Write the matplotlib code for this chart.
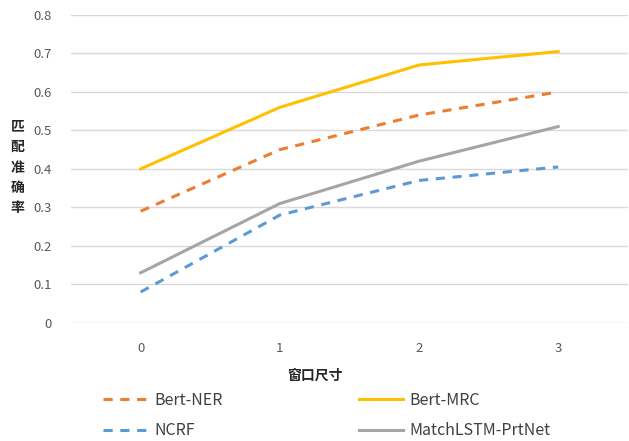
import matplotlib
matplotlib.use('Agg')
import matplotlib.pyplot as plt

plt.rcParams['font.family'] = ['Noto Sans CJK SC', 'DejaVu Sans']

# 窗口尺寸
x_labels = ['0', '1', '2', '3']
bert_ner = [0.29, 0.45, 0.54, 0.60]
bert_mrc = [0.40, 0.56, 0.67, 0.705]
ncrf = [0.08, 0.28, 0.37, 0.405]
match_lstm = [0.13, 0.31, 0.42, 0.51]
y_ticks = [0, 0.1, 0.2, 0.3, 0.4, 0.5, 0.6, 0.7, 0.8]

fig = plt.figure(figsize=(6.29, 4.41), dpi=100)
ax = fig.add_axes([0.113, 0.268, 0.885, 0.698])

x = list(range(len(x_labels)))
l1, = ax.plot(x, bert_ner, color='#ED7D31', lw=2.2, ls=(0, (3, 2.5)), label='Bert-NER')
l2, = ax.plot(x, bert_mrc, color='#FFC000', lw=2.2, label='Bert-MRC')
l3, = ax.plot(x, ncrf, color='#5B9BD5', lw=2.2, ls=(0, (3, 2.5)), label='NCRF')
l4, = ax.plot(x, match_lstm, color='#A5A5A5', lw=2.2, label='MatchLSTM-PrtNet')

ax.set_xlim(-0.5, 3.5)
ax.set_ylim(0, 0.8)
ax.set_xticks(x)
ax.set_xticklabels(x_labels)
ax.set_yticks(y_ticks)
ax.set_yticklabels(['0', '0.1', '0.2', '0.3', '0.4', '0.5', '0.6', '0.7', '0.8'])
ax.tick_params(axis='both', length=0, labelsize=9.5, labelcolor='#595959')
ax.tick_params(axis='y', pad=14)
ax.tick_params(axis='x', pad=14)
ax.grid(axis='y', color='#D9D9D9', lw=1)
ax.set_axisbelow(True)
for s in ax.spines.values():
    s.set_visible(False)

fig.text(0.5, 0.148, '窗口尺寸', ha='center', va='center', fontsize=10,
         fontweight='bold', color='#262626')
fig.text(0.028, 0.620, '匹\n配\n准\n确\n率', ha='center', va='center', fontsize=10,
         fontweight='bold', color='#262626', linespacing=1.58)

fig.legend(handles=[l1, l3, l2, l4], ncol=2, loc='center', bbox_to_anchor=(0.52, 0.058),
           frameon=False, fontsize=11.5, handlelength=2.8, columnspacing=8.5,
           labelspacing=0.85, handletextpad=0.4, labelcolor='#404040')

fig.savefig('out.png', dpi=100)
